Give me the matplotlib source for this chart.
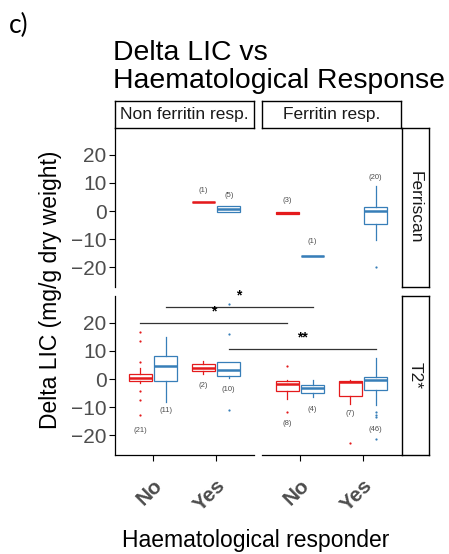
import numpy as np
import matplotlib.pyplot as plt
from matplotlib.lines import Line2D

plt.rcParams["font.family"] = ["Liberation Sans", "DejaVu Sans"]

# facets
row_names = ["Ferriscan", "T2*"]
col_names = ["Non ferritin resp.", "Ferritin resp."]
categories = ["No", "Yes"]
group_colors = {"g1": "#E41A1C", "g2": "#377EB8"}

# one entry per box
box_row = ["Ferriscan"] * 5 + ["T2*"] * 8
box_col = ["Non ferritin resp.", "Non ferritin resp.", "Ferritin resp.", "Ferritin resp.", "Ferritin resp.",
           "Non ferritin resp.", "Non ferritin resp.", "Non ferritin resp.", "Non ferritin resp.",
           "Ferritin resp.", "Ferritin resp.", "Ferritin resp.", "Ferritin resp."]
box_cat = ["Yes", "Yes", "No", "No", "Yes",
           "No", "No", "Yes", "Yes", "No", "No", "Yes", "Yes"]
box_group = ["g1", "g2", "g1", "g2", "g2",
             "g1", "g2", "g1", "g2", "g1", "g2", "g1", "g2"]
box_q1 = [3.3, -0.2, -1.0, -16.2, -4.6, -0.8, -0.8, 2.7, 1.2, -4.3, -5.0, -6.0, -4.0]
box_med = [3.3, 0.6, -0.6, -16.2, -0.1, 0.4, 4.6, 4.0, 3.3, -1.9, -3.2, -1.1, -0.5]
box_q3 = [3.3, 1.8, -0.3, -16.2, 1.5, 1.9, 8.1, 5.2, 5.9, -0.7, -2.0, -0.8, 0.7]
box_lo = [3.3, -0.2, -1.1, -16.2, -10.5, -1.3, -8.2, 1.8, 0.2, -7.0, -6.4, -8.8, -9.4]
box_hi = [3.3, 1.8, -0.3, -16.2, 8.8, 3.9, 14.9, 6.3, 5.9, -0.3, -0.5, -0.5, 7.5]
box_fliers = [[], [], [], [], [-20.0],
              [16.7, 13.4, 6.0, -4.4, -7.4, -13.0], [], [], [15.9, -11.0, 26.8],
              [4.5, -11.7], [], [-22.8], [-11.7, -12.7, -13.6, -21.5]]
box_n = [1, 5, 3, 1, 20, 21, 11, 2, 10, 8, 4, 7, 46]
n_label_y = [7.4, 5.5, 3.7, -11.0, 11.9, -18.3, -11.4, -2.3, -3.8, -15.9, -10.7, -12.3, -17.9]

# significance bars in the T2* row: (col, cat, group) -> (col, cat, group)
sig_from = [("Non ferritin resp.", "No", "g2"), ("Non ferritin resp.", "No", "g1"),
            ("Non ferritin resp.", "Yes", "g2")]
sig_to = [("Ferritin resp.", "No", "g2"), ("Ferritin resp.", "No", "g1"),
          ("Ferritin resp.", "Yes", "g2")]
sig_y = [25.7, 19.9, 10.8]
sig_label = ["*", "*", "**"]
sig_label_y = [29.9, 24.0, 14.9]

W, H = 449, 554
fig = plt.figure(figsize=(W / 100, H / 100), dpi=100)


def rect(x0, y0, x1, y1):
    # pixel box (top-left origin) -> figure fraction
    return [x0 / W, 1 - y1 / H, (x1 - x0) / W, (y1 - y0) / H]


col_px = [(115, 254), (262, 401)]
row_px = [(128, 287), (296, 455)]
dodge = {"g1": -0.2, "g2": 0.2}
grey = "#4D4D4D"

axes = {}
for ri, rname in enumerate(row_names):
    for ci, cname in enumerate(col_names):
        ax = fig.add_axes(rect(col_px[ci][0], row_px[ri][0], col_px[ci][1], row_px[ri][1]))
        ax.set_xlim(0.4, 2.6)
        ax.set_ylim(-27.1, 29.6)
        for s in ["top", "right"]:
            ax.spines[s].set_visible(False)
        ax.spines["left"].set_visible(ci == 0)
        ax.spines["bottom"].set_visible(ri == 1)
        for s in ax.spines.values():
            s.set_linewidth(0.9)
        ax.patch.set_alpha(0)
        if ci == 0:
            ax.set_yticks([-20, -10, 0, 10, 20])
            ax.tick_params(axis="y", length=4, width=0.8, labelsize=15, labelcolor=grey, pad=2)
        else:
            ax.set_yticks([])
        if ri == 1:
            ax.set_xticks([1, 2])
            ax.set_xticklabels(categories, rotation=45, ha="right", va="top",
                               rotation_mode="anchor", fontweight="bold", fontsize=15, color=grey)
            ax.tick_params(axis="x", length=4, width=0.8, pad=11)
        else:
            ax.set_xticks([])
        axes[(rname, cname)] = ax

for i in range(len(box_n)):
    ax = axes[(box_row[i], box_col[i])]
    x = categories.index(box_cat[i]) + 1 + dodge[box_group[i]]
    c = group_colors[box_group[i]]
    stats = [dict(med=box_med[i], q1=box_q1[i], q3=box_q3[i], whislo=box_lo[i],
                  whishi=box_hi[i], fliers=box_fliers[i])]
    ax.bxp(stats, positions=[x], widths=0.36, showcaps=False, patch_artist=True,
           boxprops=dict(facecolor="white", edgecolor=c, linewidth=0.9),
           medianprops=dict(color=c, linewidth=1.8),
           whiskerprops=dict(color=c, linewidth=0.9),
           flierprops=dict(marker="o", markersize=1.6, markerfacecolor=c,
                           markeredgecolor="none", linestyle="none"),
           manage_ticks=False)
    for fl in ax.lines:
        fl.set_clip_on(False)
    ax.text(x, n_label_y[i], f"({box_n[i]})", ha="center", va="center",
            fontsize=5.5, color=grey)


def to_fig(ax, x, y):
    return fig.transFigure.inverted().transform(ax.transData.transform((x, y)))


for a, b, y, lab, ly in zip(sig_from, sig_to, sig_y, sig_label, sig_label_y):
    axa = axes[("T2*", a[0])]
    axb = axes[("T2*", b[0])]
    p0 = to_fig(axa, categories.index(a[1]) + 1 + dodge[a[2]], y)
    p1 = to_fig(axb, categories.index(b[1]) + 1 + dodge[b[2]], y)
    fig.add_artist(Line2D([p0[0], p1[0]], [p0[1], p1[1]], color="#333333", lw=0.9,
                          transform=fig.transFigure))
    pl = to_fig(axa, 0, ly)
    fig.text((p0[0] + p1[0]) / 2, pl[1], lab, ha="center", va="center",
             fontsize=10, fontweight="bold", color="black")

# strips
for ci, cname in enumerate(col_names):
    sax = fig.add_axes(rect(col_px[ci][0], 101, col_px[ci][1], 128))
    sax.set_xticks([]); sax.set_yticks([])
    for s in sax.spines.values():
        s.set_linewidth(1.0)
    sax.text(0.5, 0.5, cname, ha="center", va="center", fontsize=12.5, color="#1A1A1A",
             transform=sax.transAxes)
for ri, rname in enumerate(row_names):
    sax = fig.add_axes(rect(402, row_px[ri][0], 429, row_px[ri][1]))
    sax.set_xticks([]); sax.set_yticks([])
    for s in sax.spines.values():
        s.set_linewidth(1.0)
    sax.text(0.5, 0.5, rname, ha="center", va="center", fontsize=12.5, color="#1A1A1A",
             rotation=-90, transform=sax.transAxes)

# titles and labels
fig.text(9 / W, 1 - 33 / H, "c)", fontsize=19, family=["Lato", "DejaVu Sans"], va="baseline")
fig.text(113 / W, 1 - 60 / H, "Delta LIC vs", fontsize=20.4, va="baseline")
fig.text(113 / W, 1 - 87.5 / H, "Haematological Response", fontsize=20.4, va="baseline")
fig.text(51 / W, 1 - 290 / H, "Delta LIC (mg/g dry weight)", fontsize=16.5,
         rotation=90, ha="center", va="center")
fig.text(256 / W, 1 - 540 / H, "Haematological responder", fontsize=16.5,
         ha="center", va="center")

fig.savefig("out.png", dpi=100)
